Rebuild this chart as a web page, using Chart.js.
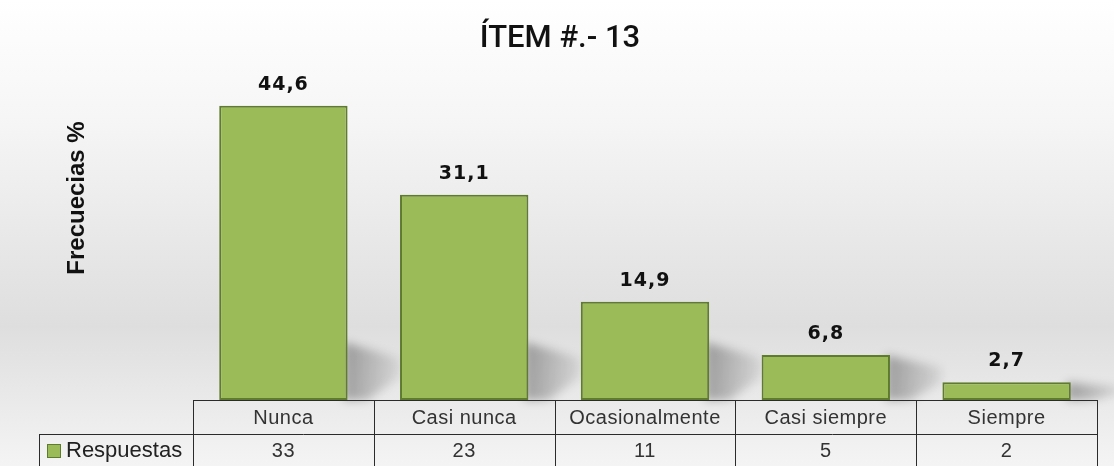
<!DOCTYPE html>
<html>
<head>
<meta charset="utf-8">
<script src="https://cdn.jsdelivr.net/npm/chart.js@4"></script>
<style>
  html, body { margin: 0; padding: 0; background: #fff; }
  #wrap { width: 1114px; height: 466px; position: relative; }
</style>
</head>
<body>
<div id="wrap"><canvas id="itemChart"></canvas></div>
<script>
// datos
const categorias = ["Nunca", "Casi nunca", "Ocasionalmente", "Casi siempre", "Siempre"];
const porcentajes = [44.6, 31.1, 14.9, 6.8, 2.7];
const respuestas = [33, 23, 11, 5, 2];
const serieNombre = "Respuestas";
const titulo = "ÍTEM #.- 13";
const tituloEje = "Frecuecias %";

const verde = "#9bbb59";
const bordeVerde = "#5f7b2e";

// fondo, sombras, etiquetas y tabla de datos
const decoracion = {
  id: "decoracion",
  beforeDraw(chart) {
    const c = chart.ctx;
    const g = c.createLinearGradient(0, 0, 0, chart.height);
    g.addColorStop(0, "#ffffff");
    g.addColorStop(0.25, "#f6f6f6");
    g.addColorStop(0.7, "#dedede");
    g.addColorStop(1, "#f4f4f4");
    c.save();
    c.fillStyle = g;
    c.fillRect(0, 0, chart.width, chart.height);
    c.restore();
  },
  beforeDatasetsDraw(chart) {
    // sombra proyectada a la derecha de cada barra
    const c = chart.ctx;
    const meta = chart.getDatasetMeta(0);
    c.save();
    c.filter = "blur(5px)";
    meta.data.forEach((bar) => {
      const r = bar.x + bar.width / 2;
      const b = bar.base;
      const hs = Math.min(b - bar.y, 58);
      const g = c.createLinearGradient(r, 0, r + 55, 0);
      g.addColorStop(0, "rgba(0,0,0,0.30)");
      g.addColorStop(1, "rgba(0,0,0,0.05)");
      c.fillStyle = g;
      c.beginPath();
      c.moveTo(r - 4, b);
      c.lineTo(r - 4, b - hs);
      c.lineTo(r + 52, b - hs * 0.72);
      c.lineTo(r + 52, b - hs * 0.4);
      c.lineTo(r + 20, b);
      c.closePath();
      c.fill();
    });
    c.restore();
  },
  afterDraw(chart) {
    const c = chart.ctx;
    const area = chart.chartArea;
    const xs = chart.scales.x;
    const meta = chart.getDatasetMeta(0);
    c.save();

    // titulo
    c.fillStyle = "#111";
    c.textAlign = "center";
    c.textBaseline = "alphabetic";
    c.font = "500 31px Roboto";
    c.fillText(titulo, 560, 47);

    // titulo del eje
    c.save();
    c.translate(84, 198);
    c.rotate(-Math.PI / 2);
    c.font = "bold 24px 'Liberation Sans'";
    c.fillText(tituloEje, 0, 0);
    c.restore();

    // valores sobre las barras
    c.font = "bold 19px 'DejaVu Sans'";
    c.letterSpacing = "1px";
    meta.data.forEach((bar, i) => {
      c.fillText(porcentajes[i].toFixed(1).replace(".", ","), bar.x, bar.y - 16);
    });
    c.letterSpacing = "0px";

    // tabla de datos
    const w = (area.right - area.left) / categorias.length;
    const top = area.bottom;
    const mid = top + 34;
    const bot = chart.height + 2;
    const izq = 39;
    c.strokeStyle = "#2b2b2b";
    c.lineWidth = 1;
    c.beginPath();
    c.moveTo(area.left, top + 0.5); c.lineTo(area.right, top + 0.5);
    c.moveTo(izq, mid + 0.5); c.lineTo(area.right, mid + 0.5);
    c.moveTo(izq + 0.5, mid); c.lineTo(izq + 0.5, bot);
    for (let i = 0; i <= categorias.length; i++) {
      const x = Math.round(area.left + i * w) + 0.5;
      c.moveTo(x, top); c.lineTo(x, bot);
    }
    c.stroke();

    c.fillStyle = "#333";
    c.font = "20px 'Liberation Sans'";
    c.letterSpacing = "0.5px";
    c.textBaseline = "middle";
    categorias.forEach((cat, i) => {
      const x = xs.getPixelForValue(i);
      c.fillText(cat, x, top + 18, w - 8);
      c.fillText(String(respuestas[i]), x, mid + 17);
    });
    c.letterSpacing = "0px";

    // clave de la serie
    c.fillStyle = verde;
    c.fillRect(47, mid + 10, 13, 13);
    c.strokeStyle = bordeVerde;
    c.strokeRect(47.5, mid + 10.5, 13, 13);
    c.fillStyle = "#222";
    c.textAlign = "left";
    c.font = "22px 'Liberation Sans'";
    c.fillText(serieNombre, 66, mid + 17, 120);

    c.restore();
  }
};

const ctx = document.getElementById("itemChart").getContext("2d");
const chart = new Chart(ctx, {
  type: "bar",
  data: {
    labels: categorias,
    datasets: [{
      label: serieNombre,
      data: porcentajes,
      backgroundColor: verde,
      borderColor: bordeVerde,
      borderWidth: 2,
      borderSkipped: false,
      barPercentage: 0.71,
      categoryPercentage: 1
    }]
  },
  options: {
    responsive: true,
    maintainAspectRatio: false,
    animation: false,
    layout: { padding: { left: 193, right: 17, top: 70, bottom: 66 } },
    scales: {
      x: { display: false },
      y: { display: false, min: 0, max: 50 }
    },
    plugins: {
      legend: { display: false },
      tooltip: { enabled: false }
    }
  },
  plugins: [decoracion]
});
</script>
</body>
</html>
